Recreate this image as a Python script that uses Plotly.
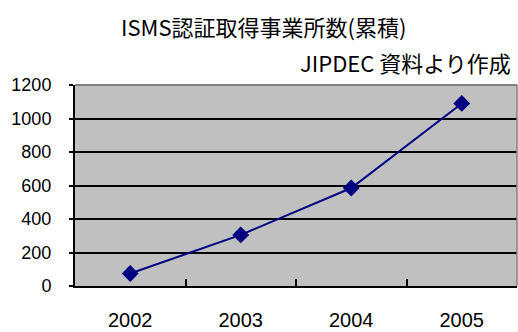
import plotly.graph_objects as go

# Cumulative number of ISMS-certified sites per year
years = ["2002", "2003", "2004", "2005"]
sites = [75, 305, 585, 1090]
y_ticks = [0, 200, 400, 600, 800, 1000, 1200]

title_text = "ISMS認証取得事業所数(累積)"
source_text = "JIPDEC 資料より作成"

navy = "#000080"
jp_font = "Noto Sans CJK JP"
num_font = "Liberation Sans, Arial, sans-serif"

fig = go.Figure(
    go.Scatter(
        x=years,
        y=sites,
        mode="lines+markers",
        line=dict(color=navy, width=2),
        marker=dict(symbol="diamond", size=13, color=navy),
        cliponaxis=False,
        hoverinfo="skip",
    )
)

fig.update_layout(
    width=518,
    height=332,
    margin=dict(l=75, r=1, t=85, b=42, pad=0),
    paper_bgcolor="white",
    plot_bgcolor="#C0C0C0",
    showlegend=False,
    annotations=[
        dict(text=title_text, xref="paper", yref="paper", x=(263 - 75) / 442,
             y=1 + (85 - 25) / 205, xanchor="center", yanchor="middle",
             showarrow=False, font=dict(family=jp_font, size=22, color="black")),
        dict(text=source_text, xref="paper", yref="paper", x=(513 - 75) / 442,
             y=1 + (85 - 62) / 205, xanchor="right", yanchor="middle",
             showarrow=False, font=dict(family=jp_font, size=22, color="black")),
    ],
    shapes=[
        # light outline of the plot area on the top and right
        dict(type="line", xref="paper", yref="paper", x0=0, x1=1, y0=1, y1=1,
             line=dict(color="#808080", width=2), layer="above"),
        dict(type="line", xref="paper", yref="paper", x0=1, x1=1, y0=0, y1=1,
             line=dict(color="#808080", width=1.5), layer="above"),
    ],
)

fig.update_xaxes(
    type="category",
    range=[-0.5, 3.5],
    showgrid=False,
    showline=True,
    linecolor="black",
    linewidth=2,
    ticks="inside",
    tickson="boundaries",
    ticklen=7,
    tickwidth=1.5,
    tickcolor="black",
    ticklabelstandoff=15,
    tickfont=dict(family=num_font, size=20, color="black"),
    fixedrange=True,
)

fig.update_yaxes(
    range=[0, 1200],
    tickvals=y_ticks,
    showgrid=True,
    gridcolor="black",
    gridwidth=1.5,
    zeroline=False,
    showline=True,
    linecolor="black",
    linewidth=2,
    ticks="outside",
    ticklen=4,
    tickwidth=1.5,
    tickcolor="black",
    ticklabelstandoff=14,
    tickfont=dict(family=num_font, size=18, color="black"),
    fixedrange=True,
)

fig.write_html("out.html", config={"displayModeBar": False})
